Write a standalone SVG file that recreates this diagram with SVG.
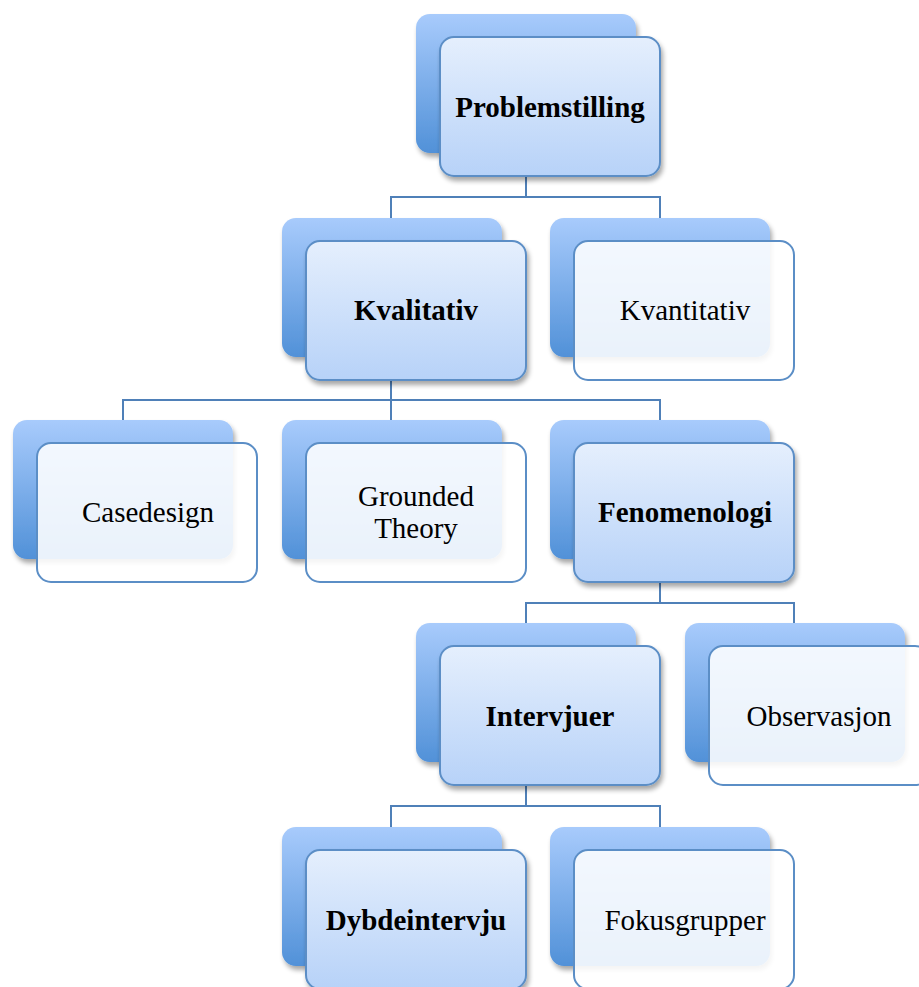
<svg xmlns="http://www.w3.org/2000/svg" width="919" height="987" viewBox="0 0 919 987">
<defs>
<linearGradient id="gBack" x1="0" y1="0" x2="0" y2="1">
<stop offset="0" stop-color="#a8cbfc"/>
<stop offset="1" stop-color="#5191d8"/>
</linearGradient>
<linearGradient id="gFront" x1="0" y1="0" x2="0" y2="1">
<stop offset="0" stop-color="#e5effd"/>
<stop offset="1" stop-color="#b7d2f8"/>
</linearGradient>
<filter id="sh" x="-10%" y="-10%" width="125%" height="130%">
<feGaussianBlur in="SourceAlpha" stdDeviation="2.5"/>
<feOffset dx="2" dy="4" result="b"/>
<feComponentTransfer><feFuncA type="linear" slope="0.35"/></feComponentTransfer>
<feMerge><feMergeNode/><feMergeNode in="SourceGraphic"/></feMerge>
</filter>
</defs>
<style>
.back{fill:url(#gBack);filter:url(#sh)}
.fb{fill:url(#gFront);stroke:#5b8ec6;stroke-width:2;filter:url(#sh)}
.fw{fill:#ffffff;fill-opacity:0.88;stroke:#5b8ec6;stroke-width:2}
.t{font-family:"Liberation Serif","Times New Roman",serif;font-size:29px;fill:#000;text-anchor:middle}
.b{font-weight:bold}
.c{fill:none;stroke:#4f80b8;stroke-width:2}
</style>
<g id="connectors">
<path class="c" d="M526,176V197M391,218V197H660V218"/>
<path class="c" d="M391,380V400M123,420V400H660V420M391,400V420"/>
<path class="c" d="M660,583V603M526,623V603H794V623"/>
<path class="c" d="M526,785V806M391,827V806H660V827"/>
</g>
<g id="problemstilling">
<rect class="back" x="416" y="14" width="220" height="139" rx="14"/>
<rect class="fb" x="440" y="37" width="220" height="139" rx="14"/>
<text class="t b" x="550" y="117">Problemstilling</text>
</g>
<g id="kvalitativ">
<rect class="back" x="282" y="218" width="220" height="139" rx="14"/>
<rect class="fb" x="306" y="241" width="220" height="139" rx="14"/>
<text class="t b" x="416" y="320">Kvalitativ</text>
</g>
<g id="kvantitativ">
<rect class="back" x="550" y="218" width="220" height="139" rx="14"/>
<rect class="fw" x="574" y="241" width="220" height="139" rx="14"/>
<text class="t" x="685" y="320">Kvantitativ</text>
</g>
<g id="casedesign">
<rect class="back" x="13" y="420" width="220" height="139" rx="14"/>
<rect class="fw" x="37" y="443" width="220" height="139" rx="14"/>
<text class="t" x="148" y="522">Casedesign</text>
</g>
<g id="grounded-theory">
<rect class="back" x="282" y="420" width="220" height="139" rx="14"/>
<rect class="fw" x="306" y="443" width="220" height="139" rx="14"/>
<text class="t" x="416" y="506">Grounded</text>
<text class="t" x="416" y="538">Theory</text>
</g>
<g id="fenomenologi">
<rect class="back" x="550" y="420" width="220" height="139" rx="14"/>
<rect class="fb" x="574" y="443" width="220" height="139" rx="14"/>
<text class="t b" x="685" y="522">Fenomenologi</text>
</g>
<g id="intervjuer">
<rect class="back" x="416" y="623" width="220" height="139" rx="14"/>
<rect class="fb" x="440" y="646" width="220" height="139" rx="14"/>
<text class="t b" x="550" y="726">Intervjuer</text>
</g>
<g id="observasjon">
<rect class="back" x="685" y="623" width="220" height="139" rx="14"/>
<rect class="fw" x="709" y="646" width="220" height="139" rx="14"/>
<text class="t" x="819" y="726">Observasjon</text>
</g>
<g id="dybdeintervju">
<rect class="back" x="282" y="827" width="220" height="139" rx="14"/>
<rect class="fb" x="306" y="850" width="220" height="139" rx="14"/>
<text class="t b" x="416" y="930">Dybdeintervju</text>
</g>
<g id="fokusgrupper">
<rect class="back" x="550" y="827" width="220" height="139" rx="14"/>
<rect class="fw" x="574" y="850" width="220" height="139" rx="14"/>
<text class="t" x="685" y="930">Fokusgrupper</text>
</g>
</svg>
